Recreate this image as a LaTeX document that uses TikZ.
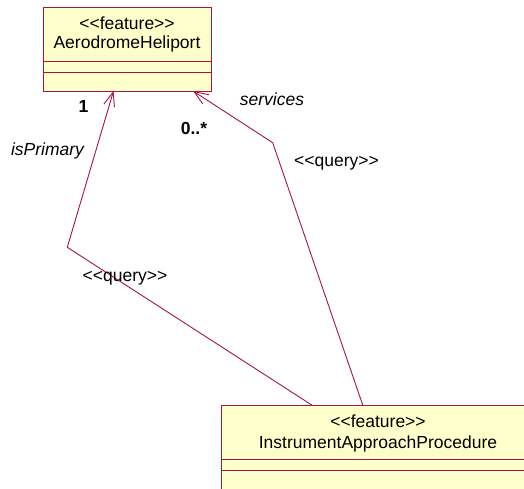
\documentclass[tikz,border=0pt]{standalone}
\usepackage{fontspec}
\setmainfont{Liberation Sans}
\usetikzlibrary{arrows.meta}
\definecolor{umlline}{RGB}{165,20,72}
\definecolor{umlfill}{RGB}{255,255,204}
% stereotype brackets, kept as separate characters so they are not joined into guillemets
\newcommand\stereotype[1]{<\kern0pt<#1>\kern0pt>}
\begin{document}
\begin{tikzpicture}[x=1pt,y=-1pt,
  umltext/.style={inner sep=0pt, anchor=base, font=\fontsize{17.5}{21}\selectfont},
  classbox/.style={draw=umlline, fill=umlfill, line width=1pt, inner sep=0pt, anchor=north west},
  compart/.style={draw=umlline, line width=0.9pt},
  assoc/.style={draw=umlline, line width=0.9pt, -{Straight Barb[length=14pt,width=11pt]}}]
  \clip (0,0) rectangle (524,489);
  \fill[white] (0,0) rectangle (524,489);

  % AerodromeHeliport class
  \node[classbox, minimum width=168pt, minimum height=84pt] (aero) at (43,7) {};
  \draw[compart] (43,61.5) -- (211,61.5);
  \draw[compart] (43,72) -- (211,72);
  \node[umltext] (aeroster) at (127,30) {\stereotype{feature}};
  \node[umltext] (aeroname) at (127,49) {AerodromeHeliport};

  % InstrumentApproachProcedure class (extends past the page edge)
  \node[classbox, minimum width=314pt, minimum height=120pt] (iap) at (221,405) {};
  \draw[compart] (221,459) -- (535,459);
  \draw[compart] (221,470) -- (535,470);
  \node[umltext] (iapster) at (378,427) {\stereotype{feature}};
  \node[umltext] (iapname) at (378,448) {InstrumentApproachProcedure};

  % association end points and bends
  \coordinate (iapP) at (311.7,405);
  \coordinate (bendP) at (67.3,247.3);
  \coordinate (aeroP) at (113.5,91);
  \coordinate (iapS) at (362.7,405);
  \coordinate (bendS) at (272.7,142.7);
  \coordinate (aeroS) at (193,91);

  \draw[assoc] (iapP) -- (bendP) -- (aeroP);
  \draw[assoc] (iapS) -- (bendS) -- (aeroS);

  % association labels
  \node[umltext, font=\fontsize{17.5}{21}\selectfont\bfseries] (multP) at (83.5,113) {1};
  \node[umltext, font=\fontsize{17.5}{21}\selectfont\itshape] (roleP) at (47.5,155.5) {isPrimary};
  \node[umltext] (queryP) at (125,281.5) {\stereotype{query}};
  \node[umltext, font=\fontsize{17.5}{21}\selectfont\bfseries] (multS) at (194,134.5) {0..*};
  \node[umltext, font=\fontsize{17.5}{21}\selectfont\itshape] (roleS) at (272,106) {services};
  \node[umltext] (queryS) at (336.5,167) {\stereotype{query}};
\end{tikzpicture}
\end{document}
